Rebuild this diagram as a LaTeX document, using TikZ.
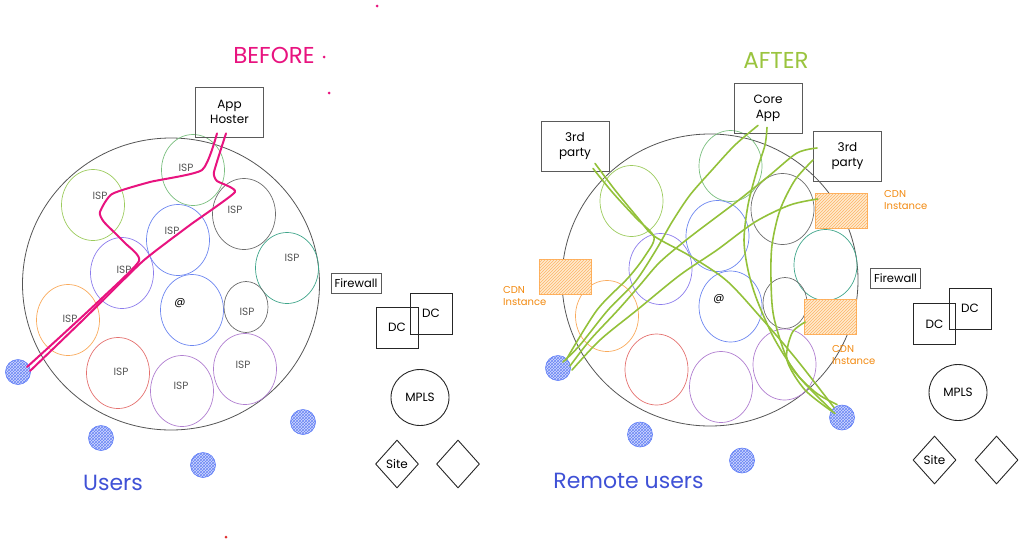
\documentclass[tikz,border=0pt]{standalone}
\usepackage{fontspec}
\setmainfont{Poppins}
\usetikzlibrary{shapes.geometric,patterns}
\definecolor{mag}{HTML}{E8137F}
\definecolor{gr}{HTML}{93C13A}
\definecolor{grtitle}{HTML}{9AC43E}
\definecolor{utext}{HTML}{3F51D6}
\definecolor{userline}{HTML}{5C7CFA}
\definecolor{userfill}{HTML}{D3DBFD}
\definecolor{userhatch}{HTML}{6A85F5}
\definecolor{cdnfill}{HTML}{FFEBCF}
\definecolor{cdnline}{HTML}{FFAE5A}
\definecolor{cdnhatch}{HTML}{FDB466}
\definecolor{cdntext}{HTML}{F2890F}
\definecolor{cloudgray}{HTML}{555555}
\definecolor{boxgray}{HTML}{5A5A5A}
\definecolor{ispgray}{HTML}{555555}
\definecolor{cgreen}{HTML}{79BE7E}
\definecolor{clime}{HTML}{9CCB5D}
\definecolor{cgray}{HTML}{6C6C6C}
\definecolor{cblue}{HTML}{6C86F0}
\definecolor{cviolet}{HTML}{8C7CEC}
\definecolor{cteal}{HTML}{3FA58A}
\definecolor{corange}{HTML}{F9AA5C}
\definecolor{cred}{HTML}{E4716F}
\definecolor{cgrape}{HTML}{B07ED0}
\definecolor{dotred}{HTML}{E03030}
\begin{document}
\begin{tikzpicture}[x=1pt,y=-1pt,
  ring/.style={ellipse, draw=#1, line width=0.7pt, minimum width=63pt, minimum height=71pt, inner sep=0pt},
  sring/.style={ring=#1, minimum width=44pt, minimum height=51pt},
  cloud/.style={ellipse, draw=cloudgray, line width=0.8pt, inner sep=0pt},
  isp/.style={text=ispgray, font=\fontsize{10.5}{12}\selectfont, inner sep=0pt},
  appbox/.style={draw=boxgray, line width=0.8pt, minimum width=68pt, minimum height=50pt, align=center, font=\fontsize{12}{15}\selectfont, inner sep=0pt},
  fwbox/.style={draw=boxgray, line width=0.8pt, minimum width=50pt, minimum height=20pt, font=\fontsize{11.5}{13}\selectfont, inner sep=0pt},
  dcbox/.style={draw=black!85, line width=0.9pt, minimum width=42pt, minimum height=41pt, font=\fontsize{12}{14}\selectfont, inner sep=0pt},
  mplsnode/.style={ellipse, draw=black!85, line width=0.9pt, minimum width=58pt, minimum height=56pt, font=\fontsize{12}{14}\selectfont, inner sep=0pt},
  sitebox/.style={diamond, draw=black!85, line width=0.9pt, minimum width=43pt, minimum height=48pt, inner sep=0pt, font=\fontsize{12}{14}\selectfont},
  user/.style={circle, draw=userline, line width=0.6pt, fill=userfill, minimum size=25pt, inner sep=0pt, postaction={pattern=crosshatch, pattern color=userhatch}},
  cdn/.style={draw=cdnline, line width=0.6pt, fill=cdnfill, minimum width=52pt, minimum height=35pt, inner sep=0pt, postaction={pattern=north east lines, pattern color=cdnhatch}},
  cdnlabel/.style={text=cdntext, align=left, anchor=west, font=\fontsize{10}{12}\selectfont, inner sep=0pt},
  titletext/.style={font=\fontsize{23}{26}\selectfont, inner sep=0pt},
  usertitle/.style={text=utext, font=\fontsize{22}{26}\selectfont, inner sep=0pt},
  mline/.style={draw=mag, line width=2pt, line cap=round, line join=round},
  gline/.style={draw=gr, line width=1.6pt, line cap=round, line join=round},
  dot/.style={circle, fill=#1, minimum size=3pt, inner sep=0pt}
]
\useasboundingbox (0,0) rectangle (1024,544);

% ===================== LEFT: BEFORE =====================
\node[titletext, text=mag] (before) at (274,55) {BEFORE};
\node[dot=mag] (dA) at (324,57) {};
\node[dot=mag] (dB) at (329,93) {};
\node[dot=mag] (dC) at (377,6) {};
\node[dot=dotred] (dD) at (226,537) {};

\node[cloud, minimum width=297pt, minimum height=292pt] (netL) at (171,284) {};

\node[ring=cgreen]  (l1)  at (193,170) {};
\node[ring=clime]   (l2)  at (93,205) {};
\node[ring=cgray]   (l3)  at (244,214) {};
\node[ring=cblue]   (l4)  at (178,240) {};
\node[ring=cviolet] (l5)  at (122,273) {};
\node[ring=cteal]   (l6)  at (287,268) {};
\node[ring=corange] (l7)  at (68,320) {};
\node[ring=cblue]   (l8)  at (192,310) {};
\node[sring=cgray]  (l9)  at (246,307) {};
\node[ring=cred]    (l10) at (118,373) {};
\node[ring=cgrape]  (l11) at (182,391) {};
\node[ring=cgrape]  (l12) at (245,369) {};

\node[isp] (t1)  at (186,168) {ISP};
\node[isp] (t2)  at (100,196) {ISP};
\node[isp] (t3)  at (235,210) {ISP};
\node[isp] (t4)  at (172,231) {ISP};
\node[isp] (t5)  at (124,270) {ISP};
\node[isp] (t6)  at (292,258) {ISP};
\node[isp] (t7)  at (70,319) {ISP};
\node[isp, text=black, font=\fontsize{11}{12}\selectfont] (t8) at (180,303) {@};
\node[isp] (t9)  at (247,312) {ISP};
\node[isp] (t10) at (121,372) {ISP};
\node[isp] (t11) at (181,386) {ISP};
\node[isp] (t12) at (243,365) {ISP};

\node[appbox] (app) at (229.5,112) {App\\Hoster};

\node[user] (u1) at (18,372) {};
\node[user] (u2) at (101,438) {};
\node[user] (u3) at (203,465) {};
\node[user] (u4) at (303,422) {};
\node[usertitle] (users) at (113,483) {Users};

\node[fwbox] (fwL) at (356,283) {Firewall};
\node[dcbox] (dcL1) at (397,327.5) {DC};
\node[dcbox] (dcL2) at (431,313.5) {DC};
\node[mplsnode] (mplsL) at (420,397.5) {MPLS};
\node[sitebox] (siteL) at (397,464) {Site};
\node[sitebox] (emptyL) at (458,464) {};

\coordinate (mA0) at ([xshift=-12.5pt,yshift=4pt]app.south);
\coordinate (mB0) at ([xshift=-3.5pt,yshift=4pt]app.south);
\coordinate (mA1) at ([xshift=9pt,yshift=5pt]u1.center);
\coordinate (mB1) at ([xshift=12pt,yshift=1pt]u1.center);
\draw[mline] plot[smooth, tension=0.35] coordinates {(mA0) (202,170) (150,182) (112,194) (100,212) (104,222) (125,243) (139,261) (100,300) (60,337) (mA1)};
\draw[mline] plot[smooth, tension=0.3] coordinates {(mB0) (214,172) (217,181) (235,192) (190,225) (143,261) (85,318) (mB1)};

% ===================== RIGHT: AFTER =====================
\node[titletext, text=grtitle] (after) at (776,60) {AFTER};

\node[cloud, minimum width=296pt, minimum height=292pt] (netR) at (710,280) {};

\node[ring=cgreen]  (r1)  at (730.5,166) {};
\node[ring=clime]   (r2)  at (631.5,201) {};
\node[ring=cgray]   (r3)  at (782.5,209) {};
\node[ring=cblue]   (r4)  at (717.5,236) {};
\node[ring=cviolet] (r5)  at (660.5,269) {};
\node[ring=cteal]   (r6)  at (825.5,265) {};
\node[ring=corange] (r7)  at (607,316) {};
\node[ring=cblue]   (r8)  at (730.5,306.5) {};
\node[sring=cgray]  (r9)  at (785,303) {};
\node[ring=cred]    (r10) at (656.5,369.5) {};
\node[ring=cgrape]  (r11) at (721,387) {};
\node[ring=cgrape]  (r12) at (784.5,364.5) {};
\node[isp, text=black, font=\fontsize{11}{12}\selectfont] (rat) at (719,299) {@};

\node[cdn] (cdn1) at (841,210.5) {};
\node[cdn] (cdn2) at (565,276.5) {};
\node[cdn] (cdn3) at (830.5,317) {};
\node[cdnlabel] (cdn1t) at (884,200) {CDN\\Instance};
\node[cdnlabel] (cdn2t) at (503,296) {CDN\\Instance};
\node[cdnlabel] (cdn3t) at (832,355) {CDN\\Instance};

\node[appbox] (tpl) at (575,146) {3rd\\party};
\node[appbox] (core) at (768,108) {Core\\App};
\node[appbox] (tpr) at (847.5,156) {3rd\\party};

\node[user] (ru1) at (558,368) {};
\node[user] (ru2) at (842,417.5) {};
\node[user] (ru3) at (640,434.5) {};
\node[user] (ru4) at (742,460.5) {};
\node[usertitle] (rusers) at (628.5,481) {Remote users};

\node[fwbox] (fwR) at (895.5,278.5) {Firewall};
\node[dcbox] (dcR1) at (934.5,324) {DC};
\node[dcbox] (dcR2) at (970,308.5) {DC};
\node[mplsnode] (mplsR) at (958,392.5) {MPLS};
\node[sitebox] (siteR) at (934.5,460) {Site};
\node[sitebox] (emptyR) at (996.5,460) {};

% connector end points
\coordinate (g1a0) at ([xshift=20pt,yshift=8pt]tpl.south);
\coordinate (g1b0) at ([xshift=18pt,yshift=3pt]tpl.south);
\coordinate (g20)  at ([xshift=-10pt,yshift=8pt]core.south);
\coordinate (g30)  at ([xshift=-1pt,yshift=6pt]core.south);
\coordinate (g40)  at ([xshift=4pt,yshift=8pt]tpr.west);
\coordinate (g50)  at ([xshift=0pt,yshift=-4pt]tpr.west);
\coordinate (g60)  at ([xshift=3pt,yshift=11.5pt]cdn1.west);
\coordinate (g70)  at ([xshift=1pt,yshift=-5pt]cdn3.west);
\coordinate (e1b) at ([xshift=8pt,yshift=8pt]ru1.center);
\coordinate (e2)  at ([xshift=5pt,yshift=6pt]ru1.center);
\coordinate (e4)  at ([xshift=12pt,yshift=2pt]ru1.center);
\coordinate (e6)  at ([xshift=14pt,yshift=-2pt]ru1.center);
\coordinate (e1a) at ([xshift=-8pt,yshift=10pt]ru2.center);
\coordinate (e3)  at ([xshift=-10pt,yshift=7pt]ru2.center);
\coordinate (e5)  at ([xshift=-5pt,yshift=13pt]ru2.center);
\coordinate (e7)  at ([xshift=-7pt,yshift=4pt]ru2.center);

\draw[gline] plot[smooth, tension=0.5] coordinates {(g1a0) (615,190) (638,218) (654,236) (690,256) (727,281) (763,320) (797,360) (e1a)};
\draw[gline] plot[smooth, tension=0.5] coordinates {(g1b0) (613,193) (636,218) (654,237) (645,256) (628,278) (597,310) (e1b)};
\draw[gline] plot[smooth, tension=0.5] coordinates {(g20) (735,145) (712,170) (690,195) (672,222) (656,250) (635,282) (608,310) (580,345) (e2)};
\draw[gline] plot[smooth, tension=0.5] coordinates {(g30) (765,145) (757,170) (748,205) (744,240) (748,270) (757,300) (775,340) (800,378) (e3)};
\draw[gline] plot[smooth, tension=0.5] coordinates {(g40) (797,153) (770,175) (735,203) (690,237) (660,262) (640,285) (618,310) (590,340) (e4)};
\draw[gline] plot[smooth, tension=0.5] coordinates {(g50) (795,180) (780,210) (772,245) (771,280) (774,318) (790,365) (815,392) (e5)};
\draw[gline] plot[smooth, tension=0.5] coordinates {(g60) (790,205) (755,222) (717,250) (680,275) (637,310) (600,340) (e6)};
\draw[gline] plot[smooth, tension=0.5] coordinates {(g70) (792,333) (787,360) (805,390) (e7)};

\end{tikzpicture}
\end{document}
